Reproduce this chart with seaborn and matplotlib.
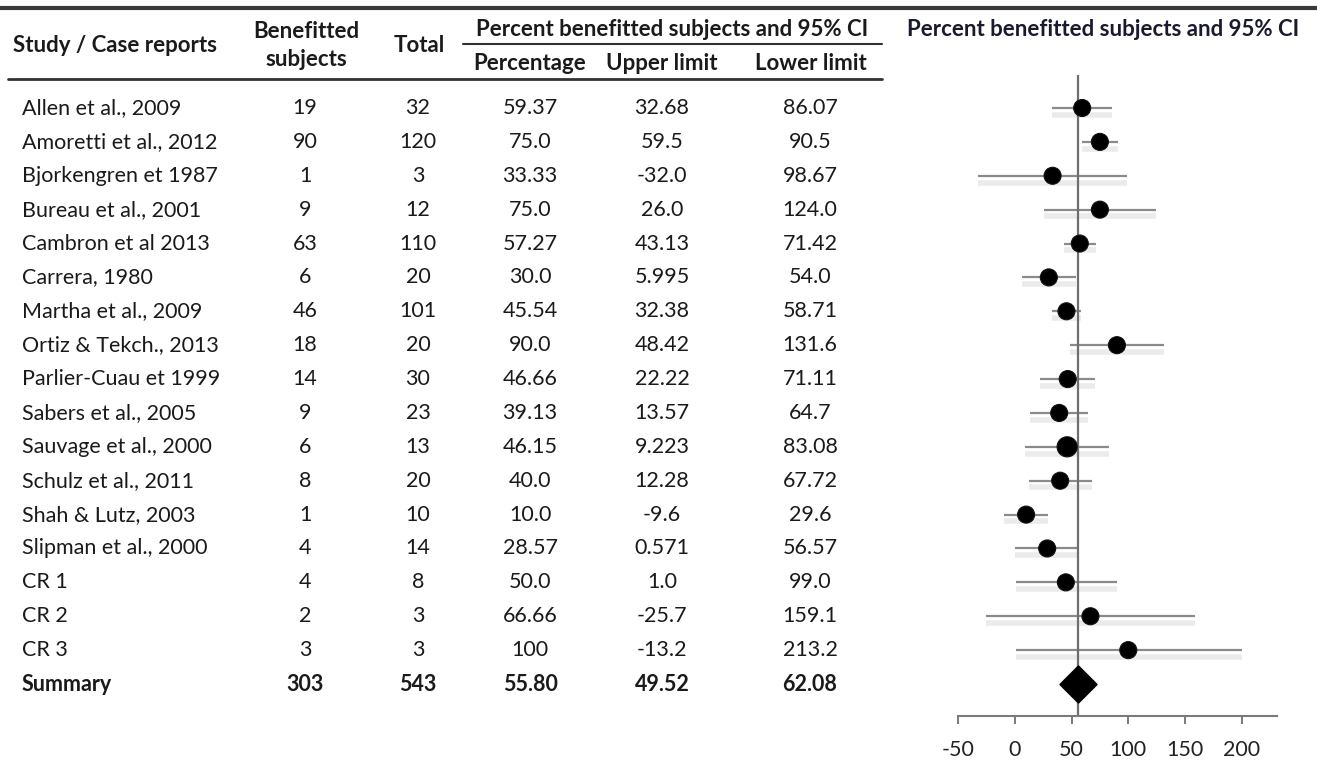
import numpy as np
import pandas as pd
import matplotlib
matplotlib.use("Agg")
import matplotlib.pyplot as plt
from matplotlib.lines import Line2D
import seaborn as sns

# Table / forest data
studies = ["Allen et al., 2009", "Amoretti et al., 2012", "Bjorkengren et 1987",
           "Bureau et al., 2001", "Cambron et al 2013", "Carrera, 1980",
           "Martha et al., 2009", "Ortiz & Tekch., 2013", "Parlier-Cuau et 1999",
           "Sabers et al., 2005", "Sauvage et al., 2000", "Schulz et al., 2011",
           "Shah & Lutz, 2003", "Slipman et al., 2000", "CR 1", "CR 2", "CR 3"]
benefitted = ["19", "90", "1", "9", "63", "6", "46", "18", "14", "9", "6", "8", "1", "4", "4", "2", "3"]
total = ["32", "120", "3", "12", "110", "20", "101", "20", "30", "23", "13", "20", "10", "14", "8", "3", "3"]
pct_txt = ["59.37", "75.0", "33.33", "75.0", "57.27", "30.0", "45.54", "90.0", "46.66",
           "39.13", "46.15", "40.0", "10.0", "28.57", "50.0", "66.66", "100"]
upper_txt = ["32.68", "59.5", "-32.0", "26.0", "43.13", "5.995", "32.38", "48.42", "22.22",
             "13.57", "9.223", "12.28", "-9.6", "0.571", "1.0", "-25.7", "-13.2"]
lower_txt = ["86.07", "90.5", "98.67", "124.0", "71.42", "54.0", "58.71", "131.6", "71.11",
             "64.7", "83.08", "67.72", "29.6", "56.57", "99.0", "159.1", "213.2"]
summary_row = ["Summary", "303", "543", "55.80", "49.52", "62.08"]

# values as drawn in the forest plot
plot_pct = [59.37, 75.0, 33.33, 75.0, 57.27, 30.0, 45.54, 90.0, 46.66,
            39.13, 46.15, 40.0, 10.0, 28.57, 45.0, 66.66, 100.0]
plot_lo = [32.68, 59.5, -32.0, 26.0, 43.13, 5.995, 32.38, 48.42, 22.22,
           13.57, 9.223, 12.28, -9.6, 0.571, 1.0, -25.7, 1.0]
plot_hi = [86.07, 90.5, 98.67, 124.0, 71.42, 54.0, 58.71, 131.6, 71.11,
           64.7, 83.08, 67.72, 29.6, 56.57, 90.0, 159.1, 200.0]
summary_pct = 55.80
xticks = [-50, 0, 50, 100, 150, 200]

df = pd.DataFrame({"study": studies, "pct": plot_pct, "lo": plot_lo, "hi": plot_hi})
df["row"] = np.arange(len(df))
df["size"] = 150
df.loc[df["study"] == "Sauvage et al., 2000", "size"] = 210

sns.set_style("white")
plt.rcParams["font.family"] = ["Lato", "DejaVu Sans"]

W, H = 1317, 781
fig = plt.figure(figsize=(W / 100, H / 100), dpi=100)


def fx(px):
    return px / W


def fy(py):
    return 1 - py / H


row_step = 33.9
ax_top, ax_bot = 75, 716
y_top = -(108 - ax_top) / row_step
y_bot = len(studies) + (ax_bot - 684) / row_step

# forest plot
ax = fig.add_axes([fx(958), fy(ax_bot), (1277 - 958) / W, (ax_bot - ax_top) / H])
ax.hlines(df["row"] + 0.2, df["lo"], df["hi"], color="#ebebeb", lw=4, zorder=1)
ax.hlines(df["row"], df["lo"], df["hi"], color="#8a8a8a", lw=1.6, zorder=2)
ax.axvline(summary_pct, color="#6e6e6e", lw=1.6, zorder=2)
sns.scatterplot(data=df, x="pct", y="row", s=df["size"].values, color="black",
                edgecolor="#101018", linewidth=0.8, legend=False, ax=ax, zorder=3)
sns.scatterplot(x=[summary_pct], y=[len(studies)], marker="D", s=340, color="black",
                edgecolor="black", legend=False, ax=ax, zorder=3)
ax.set_xlim(-50, 231)
ax.set_ylim(y_bot, y_top)
ax.set_xticks(xticks)
ax.set_xticklabels([str(t) for t in xticks])
ax.set_yticks([])
ax.set_xlabel("")
ax.set_ylabel("")
for s in ["top", "right", "left"]:
    ax.spines[s].set_visible(False)
ax.spines["bottom"].set_color("#7a7a7a")
ax.spines["bottom"].set_linewidth(1.5)
ax.tick_params(axis="x", direction="out", length=6, width=1.4, color="#7a7a7a",
               labelsize=15.5, labelcolor="#222222", pad=11, bottom=True)
ax.patch.set_alpha(0)

# table
tab = fig.add_axes([0, fy(ax_bot), 1, (ax_bot - ax_top) / H])
tab.set_xlim(0, W)
tab.set_ylim(y_bot, y_top)
tab.axis("off")
cols_x = [305, 418, 530, 662, 810]
txt = dict(fontsize=15.5, color="#1a1a1a", va="center")
for i, name in enumerate(studies):
    tab.text(22, i, name, ha="left", **txt)
    for cx, val in zip(cols_x, [benefitted[i], total[i], pct_txt[i], upper_txt[i], lower_txt[i]]):
        tab.text(cx, i, val, ha="center", **txt)
n = len(studies)
tab.text(22, n, summary_row[0], ha="left", fontweight="bold", **txt)
for cx, val in zip(cols_x, summary_row[1:]):
    tab.text(cx, n, val, ha="center", fontweight="bold", **txt)

# headers
hdr = dict(fontsize=16, fontweight="bold", color="#1a1a1a", va="center")
fig.text(fx(115), fy(46), "Study / Case reports", ha="center", **hdr)
fig.text(fx(306), fy(32), "Benefitted", ha="center", **hdr)
fig.text(fx(306), fy(60), "subjects", ha="center", **hdr)
fig.text(fx(419), fy(46), "Total", ha="center", **hdr)
fig.text(fx(672), fy(30), "Percent benefitted subjects and 95% CI", ha="center", **hdr)
fig.text(fx(530), fy(64), "Percentage", ha="center", **hdr)
fig.text(fx(662), fy(64), "Upper limit", ha="center", **hdr)
fig.text(fx(811), fy(64), "Lower limit", ha="center", **hdr)
fig.text(fx(1103), fy(30), "Percent benefitted subjects and 95% CI", ha="center",
         fontsize=16, fontweight="bold", color="#1a1a2e", va="center")

# rules
fig.add_artist(Line2D([0, 1], [fy(8), fy(8)], lw=3, color="#3a3a3a"))
fig.add_artist(Line2D([fx(8), fx(882)], [fy(79), fy(79)], lw=2, color="#333333"))
fig.add_artist(Line2D([fx(463), fx(882)], [fy(44), fy(44)], lw=1.5, color="#333333"))

fig.savefig("out.png", dpi=100)
